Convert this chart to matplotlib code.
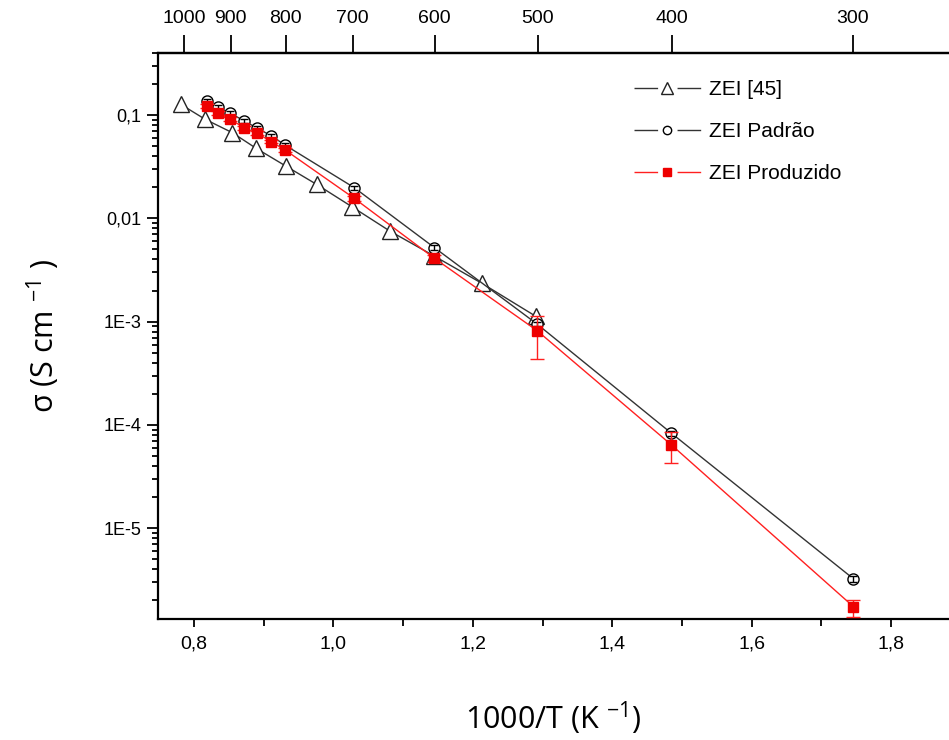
import matplotlib
matplotlib.use("Agg")
from matplotlib import pyplot as plt
from matplotlib.lines import Line2D
from matplotlib.ticker import FixedLocator, FixedFormatter, LogLocator, NullFormatter, MultipleLocator

# ZEI [45]
lit_x = [0.781, 0.816, 0.855, 0.889, 0.932, 0.976, 1.027, 1.081, 1.145, 1.213, 1.290]
lit_sigma = [0.127, 0.091, 0.0675, 0.0477, 0.032, 0.0213, 0.0129, 0.00753, 0.0043, 0.00235, 0.00113]

# ZEI Padrão
std_x = [0.818, 0.835, 0.852, 0.872, 0.891, 0.911, 0.931, 1.030, 1.145, 1.292, 1.485, 1.746]
std_sigma = [0.1375, 0.119, 0.104, 0.088, 0.0743, 0.063, 0.051, 0.0198, 0.0052, 0.00095, 8.3e-5, 3.24e-6]
std_err = [0.007, 0.006, 0.005, 0.004, 0.004, 0.003, 0.003, 0.001, 0.0003, 5e-5, 5e-6, 2e-7]

# ZEI Produzido
prod_x = [0.818, 0.835, 0.852, 0.872, 0.891, 0.911, 0.931, 1.030, 1.145, 1.292, 1.485, 1.746]
prod_sigma = [0.122, 0.105, 0.091, 0.0753, 0.0665, 0.0552, 0.0458, 0.0156, 0.0041, 8.2e-4, 6.4e-5, 1.74e-6]
prod_err_low = [0.006, 0.005, 0.004, 0.003, 0.003, 0.002, 0.002, 0.0008, 0.0003, 3.9e-4, 2.1e-5, 3.6e-7]
prod_err_high = [0.006, 0.005, 0.004, 0.003, 0.003, 0.002, 0.002, 0.0008, 0.0003, 3.1e-4, 2.1e-5, 2.8e-7]

x_ticks = [0.8, 1.0, 1.2, 1.4, 1.6, 1.8]
x_labels = ["0,8", "1,0", "1,2", "1,4", "1,6", "1,8"]
y_ticks = [1e-5, 1e-4, 1e-3, 1e-2, 1e-1]
y_labels = ["1E-5", "1E-4", "1E-3", "0,01", "0,1"]
top_temps = [1000, 900, 800, 700, 600, 500, 400, 300]

tick_font = ["Liberation Sans Narrow", "Liberation Sans"]
label_font = ["Open Sans", "DejaVu Sans"]

fig = plt.figure(figsize=(9.49, 7.40), dpi=100)
ax = fig.add_axes([0.1665, 0.1635, 0.8335, 0.765])

ax.plot(lit_x, lit_sigma, color="#333333", lw=1.0, marker="^", ms=11,
        mfc="white", mec="#222222", mew=1.0, zorder=3)
ax.errorbar(std_x, std_sigma, yerr=std_err, fmt="none", ecolor="black",
            elinewidth=1.0, capsize=3, zorder=4)
ax.plot(std_x, std_sigma, color="#333333", lw=1.0, marker="o", ms=8,
        mfc="white", mec="black", mew=1.0, zorder=3)
ax.errorbar(prod_x, prod_sigma, yerr=[prod_err_low, prod_err_high], fmt="none",
            ecolor="#ff2020", elinewidth=1.0, capsize=5, zorder=5)
ax.plot(prod_x, prod_sigma, color="#ff2020", lw=1.0, marker="s", ms=7,
        mfc="#ee0000", mec="#ee0000", zorder=6)

ax.set_yscale("log")
ax.set_xlim(0.7483, 1.8832)
ax.set_ylim(1.32e-6, 0.4)

ax.xaxis.set_major_locator(FixedLocator(x_ticks))
ax.xaxis.set_major_formatter(FixedFormatter(x_labels))
ax.xaxis.set_minor_locator(MultipleLocator(0.1))
ax.yaxis.set_major_locator(FixedLocator(y_ticks))
ax.yaxis.set_major_formatter(FixedFormatter(y_labels))
ax.yaxis.set_minor_locator(LogLocator(base=10, subs=range(2, 10), numticks=20))
ax.yaxis.set_minor_formatter(NullFormatter())

ax.spines["right"].set_visible(False)
for s in ["left", "bottom", "top"]:
    ax.spines[s].set_linewidth(1.6)
ax.tick_params(axis="both", which="both", direction="out", top=False, right=False, width=1.3)
ax.tick_params(axis="y", which="major", length=8, pad=4)
ax.tick_params(axis="y", which="minor", length=4)
ax.tick_params(axis="x", which="major", length=6, pad=6)
ax.tick_params(axis="x", which="minor", length=5)
for lbl in ax.get_xticklabels():
    lbl.set_family(tick_font)
    lbl.set_fontsize(14)
for lbl in ax.get_yticklabels():
    lbl.set_family(["Liberation Sans"])
    lbl.set_fontsize(13)

top = ax.secondary_xaxis("top", functions=(lambda x: 1000.0 / x - 273.15,
                                           lambda t: 1000.0 / (t + 273.15)))
top.set_xticks(top_temps)
top.set_xticklabels([str(t) for t in top_temps], family=tick_font, fontsize=14)
top.xaxis.set_minor_locator(FixedLocator([]))
top.tick_params(axis="x", which="major", direction="out", length=13, width=1.3, pad=6)
top.spines["top"].set_linewidth(1.6)

ax.set_xlabel("1000/T (K $^{\\mathregular{-1}}$)", family=label_font, fontsize=22, labelpad=34)
ax.set_ylabel("σ (S cm $^{\\mathregular{-1}}$ )", family=label_font, fontsize=22, labelpad=30)

# legend handles: short line, gap with marker, short line
gap_style = (0, (17, 14))
handles = [
    Line2D([], [], color="#333333", lw=1.0, ls=gap_style, marker="^", ms=8,
           mfc="white", mec="#222222"),
    Line2D([], [], color="#333333", lw=1.0, ls=gap_style, marker="o", ms=6,
           mfc="white", mec="black"),
    Line2D([], [], color="#ff2020", lw=1.0, ls=gap_style, marker="s", ms=6,
           mfc="#ee0000", mec="#ee0000"),
]
leg = ax.legend(handles, ["ZEI [45]", "ZEI Padrão", "ZEI Produzido"],
                loc="upper left", bbox_to_anchor=(634 / 949, 1 - 80 / 740),
                bbox_transform=fig.transFigure, frameon=False, handlelength=3.2,
                handletextpad=0.4, labelspacing=1.1, borderpad=0,
                borderaxespad=0, prop={"family": "Liberation Sans", "size": 15})

fig.savefig("out.png", dpi=100)
